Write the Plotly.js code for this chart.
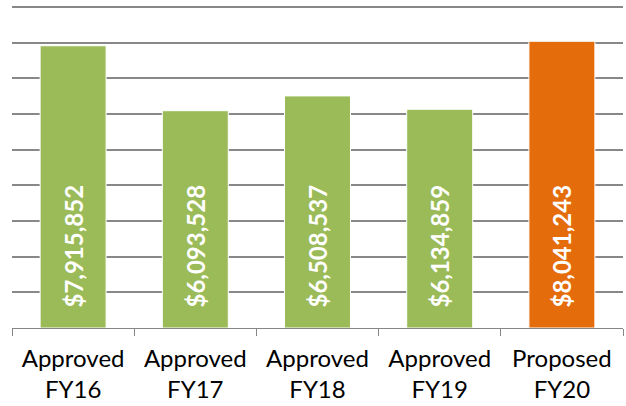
<!DOCTYPE html>
<html>
<head>
<meta charset="utf-8">
<script src="https://cdn.plot.ly/plotly-3.0.1.min.js"></script>
<style>html,body{margin:0;padding:0;background:#fff;}#chart{width:626px;height:406px;}</style>
</head>
<body>
<div id="chart"></div>
<script>
const categories = ["Approved<br>FY16", "Approved<br>FY17", "Approved<br>FY18", "Approved<br>FY19", "Proposed<br>FY20"];
const values = [7915852, 6093528, 6508537, 6134859, 8041243];
const barColors = ["#9BBB59", "#9BBB59", "#9BBB59", "#9BBB59", "#E46C0A"];
const valueLabels = values.map(v => "\u00A0\u00A0\u00A0$" + v.toLocaleString("en-US"));

const trace = {
  type: "bar",
  x: categories,
  y: values,
  text: valueLabels,
  texttemplate: "%{text}",
  textposition: "inside",
  insidetextanchor: "start",
  textangle: -90,
  textfont: {family: "Lato, 'Open Sans', sans-serif", size: 24, color: "#ffffff", weight: "bold"},
  constraintext: "none",
  marker: {color: barColors, line: {color: "#ffffff", width: 1}},
  width: 0.54,
  hoverinfo: "none"
};

const layout = {
  width: 626, height: 406,
  margin: {l: 12, r: 3, t: 6, b: 78},
  paper_bgcolor: "#ffffff",
  plot_bgcolor: "#ffffff",
  showlegend: false,
  font: {family: "Lato, 'Open Sans', sans-serif", size: 24, color: "#000000"},
  xaxis: {
    type: "category",
    tickson: "boundaries",
    ticks: "outside",
    ticklen: 7,
    tickcolor: "#868686",
    tickwidth: 1,
    ticklabelstandoff: 9,
    showline: true,
    linecolor: "#868686",
    linewidth: 1,
    showgrid: false,
    tickfont: {size: 24, color: "#000000"},
    fixedrange: true
  },
  yaxis: {
    range: [0, 9030000],
    tickvals: [1000000, 2000000, 3000000, 4000000, 5000000, 6000000, 7000000, 8000000, 9000000],
    showticklabels: false,
    showgrid: true,
    gridcolor: "#888888",
    gridwidth: 2,
    zeroline: false,
    showline: false,
    ticks: "",
    fixedrange: true
  }
};

Plotly.newPlot("chart", [trace], layout, {displayModeBar: false, staticPlot: true});
</script>
</body>
</html>
